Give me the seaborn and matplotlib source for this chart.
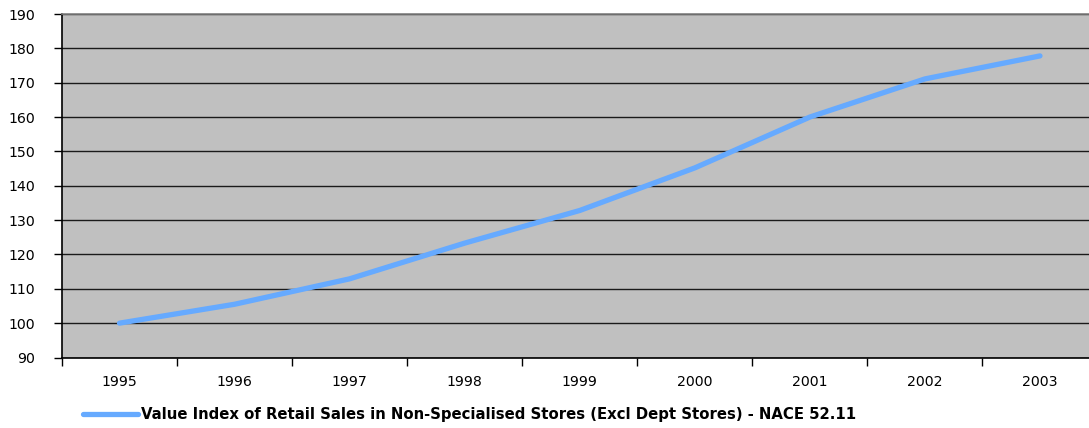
import matplotlib
matplotlib.use("Agg")
import matplotlib.pyplot as plt
from matplotlib.ticker import FixedLocator, MultipleLocator
import seaborn as sns
import pandas as pd

years = ["1995", "1996", "1997", "1998", "1999", "2000", "2001", "2002", "2003"]
index_values = [100.0, 105.5, 112.9, 123.3, 132.8, 145.2, 160.0, 171.1, 177.8]
series_name = "Value Index of Retail Sales in Non-Specialised Stores (Excl Dept Stores) - NACE 52.11"

sns.set_theme(style="white")
plt.rcParams["font.family"] = ["DejaVu Sans"]
plt.rcParams["text.color"] = "#000000"

df = pd.DataFrame({"pos": range(len(years)), "value": index_values, "series": series_name})

fig = plt.figure(figsize=(10.89, 4.28), dpi=100)
W, H = 1089, 428
ax = fig.add_axes([62 / W, 70.5 / H, 1035.5 / W, 343.5 / H])
ax.set_facecolor("#C0C0C0")

sns.lineplot(data=df, x="pos", y="value", hue="series", palette=["#66AAFF"],
             linewidth=3.8, ax=ax, legend=True)
for ln in ax.get_lines():
    ln.set_solid_capstyle("round")
    ln.set_solid_joinstyle("round")

ax.set_xlim(-0.5, len(years) - 0.5)
ax.set_ylim(90, 190)
ax.yaxis.set_major_locator(MultipleLocator(10))
ax.grid(axis="y", color="#1a1a1a", linewidth=1.0)
ax.set_axisbelow(True)

# category labels centred, tick marks on the category boundaries
ax.xaxis.set_major_locator(FixedLocator(range(len(years))))
ax.set_xticklabels(years)
ax.xaxis.set_minor_locator(FixedLocator([i - 0.5 for i in range(len(years) + 1)]))
ax.tick_params(axis="x", which="major", length=0, pad=12.5, labelsize=10.2, colors="#000000")
ax.tick_params(axis="x", which="minor", length=6, width=1, color="#000000", bottom=True)
ax.tick_params(axis="y", which="major", length=6, width=1, color="#000000", left=True,
               pad=13.5, labelsize=10.2, labelcolor="#000000")
ax.set_xlabel("")
ax.set_ylabel("")

for side in ["left", "bottom"]:
    ax.spines[side].set_color("#000000")
    ax.spines[side].set_linewidth(1.2)
ax.spines["top"].set_color("#808080")
ax.spines["top"].set_linewidth(1.2)
ax.spines["right"].set_visible(False)

handles, labels = ax.get_legend_handles_labels()
ax.get_legend().remove()
leg = fig.legend(handles, labels, loc="center left", bbox_to_anchor=(70 / W, (H - 415) / H),
                 frameon=False, handlelength=3.65, handletextpad=0.2,
                 prop={"weight": "bold", "size": 10.7})
for t in leg.get_texts():
    t.set_color("#000000")
for h in leg.legend_handles:
    h.set_linewidth(3.8)
    h.set_solid_capstyle("round")

fig.savefig("out.png", dpi=100)
